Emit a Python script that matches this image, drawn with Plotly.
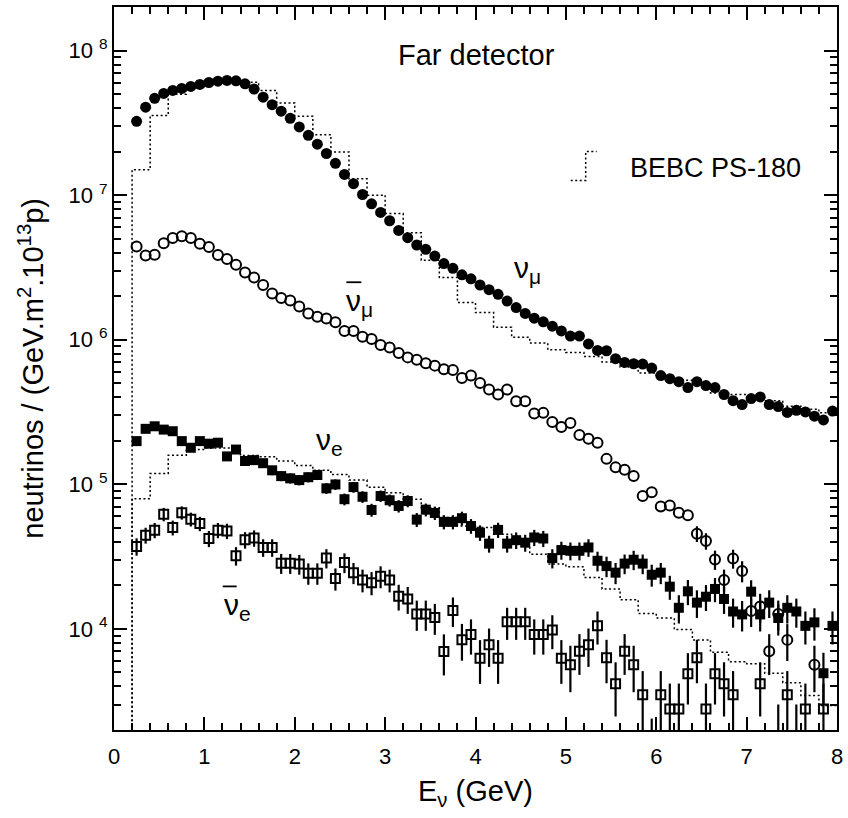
import plotly.graph_objects as go

FONT = "Liberation Sans, Arial, Helvetica, sans-serif"

# ---------------- data ----------------
energy = [0.25, 0.35, 0.45, 0.55, 0.65, 0.75, 0.85, 0.95,
          1.05, 1.15, 1.25, 1.35, 1.45, 1.55, 1.65, 1.75, 1.85, 1.95,
          2.05, 2.15, 2.25, 2.35, 2.45, 2.55, 2.65, 2.75, 2.85, 2.95,
          3.05, 3.15, 3.25, 3.35, 3.45, 3.55, 3.65, 3.75, 3.85, 3.95,
          4.05, 4.15, 4.25, 4.35, 4.45, 4.55, 4.65, 4.75, 4.85, 4.95,
          5.05, 5.15, 5.25, 5.35, 5.45, 5.55, 5.65, 5.75, 5.85, 5.95,
          6.05, 6.15, 6.25, 6.35, 6.45, 6.55, 6.65, 6.75, 6.85, 6.95,
          7.05, 7.15, 7.25, 7.35, 7.45, 7.55, 7.65, 7.75, 7.85, 7.95]

nu_mu = [3.24e7, 4.06e7, 4.67e7, 5.05e7, 5.30e7, 5.47e7, 5.65e7, 5.83e7,
         6.01e7, 6.14e7, 6.21e7, 6.17e7, 5.89e7, 5.41e7, 4.76e7, 4.22e7, 3.81e7, 3.40e7,
         2.96e7, 2.59e7, 2.25e7, 1.94e7, 1.66e7, 1.39e7, 1.20e7, 1.01e7, 8.71e6, 7.59e6,
         6.65e6, 5.70e6, 5.08e6, 4.52e6, 4.22e6, 3.79e6, 3.36e6, 3.12e6, 2.81e6, 2.64e6,
         2.39e6, 2.22e6, 2.06e6, 1.85e6, 1.67e6, 1.52e6, 1.41e6, 1.33e6, 1.24e6, 1.15e6,
         1.06e6, 1.06e6, 9.35e5, 8.43e5, 8.39e5, 7.40e5, 6.97e5, 6.82e5, 6.79e5, 6.37e5,
         5.65e5, 5.38e5, 5.13e5, 4.67e5, 5.13e5, 4.82e5, 4.67e5, 4.18e5, 3.79e5, 3.56e5,
         3.92e5, 4.02e5, 3.56e5, 3.45e5, 3.14e5, 3.25e5, 3.17e5, 2.96e5, 2.79e5, 3.21e5]

nu_mu_bar = [4.42e6, 3.83e6, 3.87e6, 4.65e6, 5.05e6, 5.19e6, 5.05e6, 4.61e6,
             4.38e6, 3.85e6, 3.61e6, 3.30e6, 2.92e6, 2.69e6, 2.39e6, 2.09e6, 1.94e6, 1.87e6,
             1.70e6, 1.52e6, 1.44e6, 1.40e6, 1.32e6, 1.15e6, 1.15e6, 1.05e6, 1.01e6, 9.19e5,
             8.85e5, 8.09e5, 7.55e5, 7.28e5, 6.87e5, 6.62e5, 6.24e5, 6.17e5, 5.43e5, 5.65e5,
             5.02e5, 4.52e5, 4.18e5, 4.52e5, 3.75e5, 3.75e5, 3.09e5, 3.12e5, 2.70e5, 2.49e5,
             2.66e5, 2.19e5, 2.07e5, 1.94e5, 1.50e5, 1.31e5, 1.26e5, 1.14e5, 8.30e4, 8.81e4,
             7.03e4, 7.13e4, 6.37e4, 6.11e4, 4.56e4, 4.06e4, 3.02e4, 2.18e4, 3.07e4, 2.52e4,
             1.33e4, 1.43e4, 7.0e3, 1.27e4, 8.4e3, None, None, 5.65e3, None, None]

nu_mu_bar_err = [None, None, None, None, None, None, None, None,
                 None, None, None, None, None, None, None, None, None, None,
                 None, None, None, None, None, None, None, None, None, None,
                 None, None, None, None, None, None, None, None, None, None,
                 None, None, None, None, None, None, None, None, None, None,
                 None, None, None, None, None, None, None, None, None, None,
                 None, None, None, None, 5700, 5300, 4600, 3900, 4600, 4200,
                 3000, 3200, 2200, 3000, 2400, None, None, 2000, None, None]

nu_e = [1.99e5, 2.42e5, 2.52e5, 2.39e5, 2.33e5, 1.99e5, 1.79e5, 1.99e5,
        1.91e5, 1.94e5, 1.56e5, 1.74e5, 1.45e5, 1.47e5, 1.40e5, 1.25e5, 1.14e5, 1.10e5,
        1.07e5, 1.12e5, 1.16e5, 9.38e4, 9.98e4, 7.89e4, 9.57e4, 8.20e4, 6.65e4, 8.30e4,
        7.76e4, 7.08e4, 7.67e4, 5.70e4, 6.68e4, 6.34e4, 5.50e4, 5.50e4, 5.83e4, 5.15e4,
        4.63e4, 3.89e4, 4.84e4, 3.89e4, 4.11e4, 3.95e4, 4.29e4, 4.22e4, 3.09e4, 3.51e4,
        3.47e4, 3.47e4, 3.66e4, 2.96e4, 2.72e4, 2.45e4, 2.83e4, 3.01e4, 2.83e4, 2.37e4,
        2.45e4, 1.96e4, 1.40e4, 1.82e4, 1.52e4, 1.67e4, 1.89e4, 1.61e4, 1.32e4, 1.26e4,
        1.81e4, 1.26e4, 1.52e4, 1.19e4, 1.40e4, 1.32e4, 1.05e4, 1.11e4, 4.94e3, 1.05e4]

nu_e_err = [11800, 13000, 13300, 12900, 12800, 11800, 11200, 11800,
            11600, 11700, 10500, 11000, 10100, 10100, 9900, 9400, 8900, 8800,
            8700, 8900, 9000, 8100, 8400, 7400, 8200, 7600, 6800, 7600,
            7400, 7000, 7300, 6300, 6800, 6700, 6200, 6200, 6400, 6000,
            5700, 5200, 5800, 5200, 5400, 5300, 5500, 5400, 4700, 5000,
            4900, 4900, 5100, 4600, 4400, 4100, 4400, 4600, 4400, 4100,
            4100, 3700, 3100, 3600, 3300, 3400, 3600, 3400, 3000, 3000,
            3600, 3000, 3300, 2900, 3100, 3000, 2700, 2800, 1900, 2700]

nu_e_bar = [3.72e4, 4.45e4, 4.82e4, 6.21e4, 5.02e4, 6.37e4, 5.74e4, 5.35e4,
            4.22e4, 4.82e4, 4.76e4, 3.21e4, 4.13e4, 4.25e4, 3.66e4, 3.66e4, 2.85e4, 2.85e4,
            2.81e4, 2.43e4, 2.43e4, 3.09e4, 2.23e4, 2.88e4, 2.45e4, 2.18e4, 2.09e4, 2.31e4,
            2.18e4, 1.68e4, 1.61e4, 1.27e4, 1.27e4, 1.20e4, 6.97e3, 1.34e4, 8.43e3, 9.14e3,
            6.27e3, 7.76e3, 6.27e3, 1.12e4, 1.12e4, 1.12e4, 9.14e3, 9.14e3, 9.84e3, 6.27e3,
            5.65e3, 7.01e3, 7.76e3, 1.05e4, 6.31e3, 4.18e3, 7.01e3, 5.65e3, 3.51e3, 1.4e3,
            3.51e3, 2.79e3, 2.79e3, 4.90e3, 6.31e3, 2.79e3, 4.90e3, 4.18e3, 3.51e3, None,
            None, 4.18e3, None, 1.5e3, 3.51e3, 1.5e3, 2.79e3, None, 2.79e3, None]

nu_e_bar_err = [5100, 5600, 5800, 6600, 5900, 6700, 6300, 6100,
                5400, 5800, 5800, 4700, 5400, 5500, 5100, 5100, 4500, 4500,
                4400, 4100, 4100, 4700, 3900, 4500, 4100, 3900, 3800, 4000,
                3900, 3400, 3400, 3000, 3000, 2900, 2200, 3100, 2400, 2500,
                2100, 2300, 2100, 2800, 2800, 2800, 2500, 2500, 2600, 2100,
                2000, 2200, 2300, 2700, 2100, 1700, 2200, 2000, 1600, 1000,
                1600, 1400, 1400, 1900, 2100, 1400, 1900, 1700, 1600, None,
                None, 1700, None, 1500, 1600, 1500, 1400, None, 1400, None]

# BEBC PS-180 prediction (histograms, 0.2 GeV bins)
bebc_edges = [0.2, 0.4, 0.6, 0.8, 1.0, 1.2, 1.4, 1.6, 1.8, 2.0,
              2.2, 2.4, 2.6, 2.8, 3.0, 3.2, 3.4, 3.6, 3.8, 4.0,
              4.2, 4.4, 4.6, 4.8, 5.0, 5.2, 5.4, 5.6, 5.8, 6.0,
              6.2, 6.4, 6.6, 6.8, 7.0, 7.2, 7.4, 7.6, 7.8, 8.0]

bebc_nu_mu = [1.50e7, 3.56e7, 4.98e7, 5.50e7, 5.89e7, 6.17e7, 6.03e7, 5.30e7, 4.34e7,
              3.51e7, 2.62e7, 1.99e7, 1.30e7, 1.00e7, 7.46e6, 5.50e6, 3.55e6, 2.69e6,
              1.81e6, 1.54e6, 1.22e6, 1.04e6, 9.48e5, 8.53e5, 8.17e5, 7.67e5, 7.02e5,
              6.47e5, 5.89e5, 5.58e5, 5.24e5, 4.90e5, 4.29e5, 4.18e5, 3.98e5, 3.79e5,
              3.47e5, 3.31e5, 3.12e5]

bebc_nu_e = [7.96e4, 1.19e5, 1.59e5, 1.74e5, 1.78e5, 1.78e5, 1.58e5, 1.55e5, 1.45e5,
             1.35e5, 1.25e5, 1.17e5, 1.07e5, 9.55e4, 8.75e4, 7.89e4, 6.90e4, 5.89e4,
             5.15e4, 5.02e4, 4.52e4, 3.85e4, 3.29e4, 2.81e4, 2.69e4, 2.27e4, 1.89e4,
             1.59e4, 1.28e4, 1.19e4, 9.89e3, 8.39e3, 6.90e3, 5.94e3, 5.74e3, 4.94e3,
             4.25e3, 3.47e3, 2.95e3]

hist_floor = 1.0  # histogram starts from zero (below the log range)

y_tick_vals = [1e4, 1e5, 1e6, 1e7, 1e8]
y_tick_text = ["10 <sup>4</sup>", "10 <sup>5</sup>", "10 <sup>6</sup>",
               "10 <sup>7</sup>", "10 <sup>8</sup>"]
x_tick_vals = [0, 1, 2, 3, 4, 5, 6, 7, 8]

# ---------------- figure ----------------
def step(edges, vals):
    xs = [edges[0]] + list(edges)
    ys = [hist_floor] + list(vals) + [vals[-1]]
    return xs, ys

fig = go.Figure()

for vals in (bebc_nu_mu, bebc_nu_e):
    hx, hy = step(bebc_edges, vals)
    fig.add_trace(go.Scatter(x=hx, y=hy, mode="lines", line_shape="hv",
                             line=dict(color="black", width=1.5, dash="2px,2.5px"),
                             showlegend=False, hoverinfo="skip"))

err_style = dict(type="data", visible=True, thickness=2.2, width=0, color="black")

fig.add_trace(go.Scatter(x=energy, y=nu_e_bar, mode="markers",
                         marker=dict(symbol="square-open", size=9, color="black",
                                     line=dict(width=2, color="black")),
                         error_y=dict(array=nu_e_bar_err, **err_style), showlegend=False))
fig.add_trace(go.Scatter(x=energy, y=nu_e, mode="markers",
                         marker=dict(symbol="square", size=10, color="black"),
                         error_y=dict(array=nu_e_err, **err_style), showlegend=False))
fig.add_trace(go.Scatter(x=energy, y=nu_mu_bar, mode="markers",
                         marker=dict(symbol="circle-open", size=10, color="black",
                                     line=dict(width=2, color="black")),
                         error_y=dict(array=nu_mu_bar_err, **err_style), showlegend=False))
fig.add_trace(go.Scatter(x=energy, y=nu_mu, mode="markers",
                         marker=dict(symbol="circle", size=11, color="black"),
                         showlegend=False))

minor_y = [m * 10 ** d for d in range(3, 9) for m in range(2, 10) if m * 10 ** d <= 2e8]

axis_common = dict(showline=True, linewidth=2, linecolor="black", mirror="allticks",
                   ticks="inside", ticklen=13, tickwidth=2, tickcolor="black",
                   showgrid=False, zeroline=False,
                   tickfont=dict(family=FONT, size=22, color="black"))

fig.update_xaxes(range=[0, 8], tickmode="array", tickvals=x_tick_vals,
                 minor=dict(dtick=0.2, tick0=0, ticks="inside", ticklen=7, tickwidth=2,
                            tickcolor="black", showgrid=False),
                 ticklabelstandoff=6, **axis_common)
fig.update_yaxes(type="log", range=[3.30103, 8.30103], tickmode="array",
                 tickvals=y_tick_vals, ticktext=y_tick_text,
                 minor=dict(tickmode="array", tickvals=minor_y, ticks="inside", ticklen=7,
                            tickwidth=2, tickcolor="black", showgrid=False),
                 **axis_common)

def px(xp):
    return (xp - 114) / 725.0

def py(yp):
    return (730 - yp) / 725.0

ann = []
ann.append(dict(text="Far detector", x=px(478), y=py(53), xanchor="center", yanchor="middle",
                font=dict(size=29)))
ann.append(dict(text="BEBC PS-180", x=px(629), y=py(166), xanchor="left", yanchor="middle",
                font=dict(size=27)))
ann.append(dict(text="ν<sub>μ</sub>", x=px(513), y=py(268), xanchor="left", yanchor="middle",
                font=dict(size=30)))
ann.append(dict(text="ν<sub>μ</sub>", x=px(345), y=py(301), xanchor="left", yanchor="middle",
                font=dict(size=30)))
ann.append(dict(text="ν<sub>e</sub>", x=px(315), y=py(441), xanchor="left", yanchor="middle",
                font=dict(size=30)))
ann.append(dict(text="ν<sub>e</sub>", x=px(222), y=py(606), xanchor="left", yanchor="middle",
                font=dict(size=30)))
ann.append(dict(text="E<sub>ν</sub> (GeV)", x=0.5, y=py(793), xanchor="center", yanchor="middle",
                font=dict(size=29)))
ann.append(dict(text="neutrinos / (GeV.m<sup>2</sup>.10<sup>13</sup>p)", textangle=-90,
                x=px(30), y=0.5, xanchor="center", yanchor="middle", font=dict(size=29)))
for a in ann:
    a.update(xref="paper", yref="paper", showarrow=False)
    a["font"].update(family=FONT, color="black")

shapes = [
    # overbars of the antineutrino labels
    dict(type="line", x0=px(347), x1=px(362), y0=py(281), y1=py(281)),
    dict(type="line", x0=px(223), x1=px(237), y0=py(586), y1=py(586)),
]
for s in shapes:
    s.update(xref="paper", yref="paper", line=dict(color="black", width=1.8))
# legend glyph for the BEBC histogram (dotted step)
shapes.append(dict(type="path", xref="paper", yref="paper",
                   path=f"M {px(572)} {py(179)} L {px(587)} {py(179)} L {px(587)} {py(150)} L {px(598)} {py(150)}",
                   line=dict(color="black", width=1.5, dash="2px,2.5px")))

fig.update_layout(width=848, height=818, margin=dict(l=114, r=9, t=5, b=88),
                  paper_bgcolor="white", plot_bgcolor="white",
                  font=dict(family=FONT, color="black"),
                  annotations=ann, shapes=shapes, showlegend=False)

fig.write_html("out.html")
